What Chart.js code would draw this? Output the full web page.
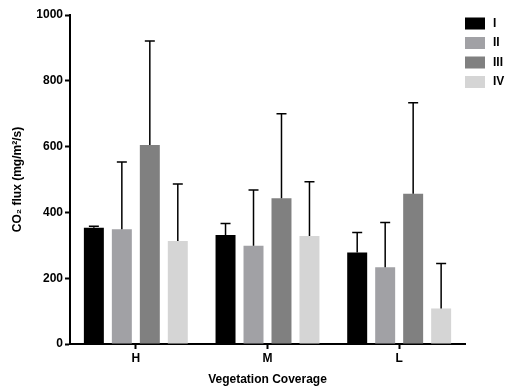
<!DOCTYPE html>
<html lang="en">
<head>
    <meta charset="UTF-8">
    <title>CO2 flux by vegetation coverage</title>
    <script src="https://cdn.jsdelivr.net/npm/chart.js"></script>
    <style>
        html, body {
            margin: 0;
            padding: 0;
            background: white;
        }
        #wrap {
            width: 509px;
            height: 389px;
        }
    </style>
</head>
<body>
    <div id="wrap"><canvas id="fluxChart"></canvas></div>
    <script>
        // data
        const coverage = ["H", "M", "L"];
        const seriesNames = ["I", "II", "III", "IV"];
        const seriesColors = ["#000000", "#a1a1a5", "#808080", "#d5d5d5"];
        const meanI = [353, 331, 278];
        const meanII = [349, 299, 233];
        const meanIII = [605, 443, 457];
        const meanIV = [313, 328, 108];
        // upper end of each error bar
        const topI = [358, 366, 339];
        const topII = [553, 468, 369];
        const topIII = [921, 700, 733];
        const topIV = [486, 493, 245];
        const yTicks = [0, 200, 400, 600, 800, 1000];

        const means = [meanI, meanII, meanIII, meanIV];
        const tops = [topI, topII, topIII, topIV];

        const tickFont = { family: "Liberation Sans, Arial, sans-serif", size: 12, weight: "bold" };

        // draw the upward error bars
        const errorBars = {
            id: "errorBars",
            afterDatasetsDraw(chart) {
                const ctx = chart.ctx;
                const y = chart.scales.y;
                ctx.save();
                ctx.strokeStyle = "#000";
                ctx.lineWidth = 1.5;
                chart.data.datasets.forEach((ds, i) => {
                    const meta = chart.getDatasetMeta(i);
                    meta.data.forEach((bar, j) => {
                        const x = bar.x;
                        const yTop = y.getPixelForValue(tops[i][j]);
                        const yBase = y.getPixelForValue(means[i][j]);
                        ctx.beginPath();
                        ctx.moveTo(x, yBase);
                        ctx.lineTo(x, yTop);
                        ctx.moveTo(x - 5, yTop);
                        ctx.lineTo(x + 5, yTop);
                        ctx.stroke();
                    });
                });
                ctx.restore();
            }
        };

        // legend drawn by hand at the top right
        const sideLegend = {
            id: "sideLegend",
            afterDraw(chart) {
                const ctx = chart.ctx;
                ctx.save();
                ctx.font = "bold 12px Liberation Sans, Arial, sans-serif";
                ctx.textBaseline = "middle";
                chart.data.datasets.forEach((ds, i) => {
                    const cy = 23.5 + i * 19.5;
                    ctx.fillStyle = ds.backgroundColor;
                    ctx.fillRect(465, cy - 6, 20, 12);
                    ctx.fillStyle = "#000";
                    ctx.fillText(ds.label, 493, cy);
                });
                ctx.restore();
            }
        };

        const ctx = document.getElementById("fluxChart").getContext("2d");
        new Chart(ctx, {
            type: "bar",
            data: {
                labels: coverage,
                datasets: seriesNames.map((name, i) => ({
                    label: name,
                    data: means[i],
                    backgroundColor: seriesColors[i],
                    borderWidth: 0,
                    barPercentage: 0.714,
                    categoryPercentage: 0.85
                }))
            },
            options: {
                responsive: true,
                maintainAspectRatio: false,
                animation: false,
                layout: {
                    padding: { top: 15, right: 44, bottom: 0, left: 0 }
                },
                plugins: {
                    legend: { display: false },
                    tooltip: { enabled: false }
                },
                scales: {
                    x: {
                        grid: {
                            display: true,
                            offset: false,
                            drawOnChartArea: false,
                            drawTicks: true,
                            tickLength: 5,
                            tickWidth: 2,
                            color: "#000"
                        },
                        border: { color: "#000", width: 2 },
                        ticks: { color: "#000", font: tickFont, padding: 2 },
                        title: {
                            display: true,
                            text: "Vegetation Coverage",
                            color: "#000",
                            font: { family: "Liberation Sans, Arial, sans-serif", size: 12, weight: "bold" },
                            padding: { top: 0, bottom: 2 }
                        },
                        afterFit(scale) { scale.height = 45; }
                    },
                    y: {
                        min: 0,
                        max: 1000,
                        afterBuildTicks(scale) {
                            scale.ticks = yTicks.map(v => ({ value: v }));
                        },
                        grid: {
                            display: true,
                            drawOnChartArea: false,
                            drawTicks: true,
                            tickLength: 5,
                            tickWidth: 2,
                            color: "#000"
                        },
                        border: { color: "#000", width: 2 },
                        ticks: {
                            color: "#000",
                            font: tickFont,
                            padding: 2,
                            callback: v => String(v)
                        },
                        title: {
                            display: true,
                            text: "CO\u2082 flux (mg/m\u00b2/s)",
                            color: "#000",
                            font: { family: "Liberation Sans, Arial, sans-serif", size: 12, weight: "bold" },
                            padding: { top: 10, bottom: 0 }
                        },
                        afterFit(scale) { scale.width = 70; }
                    }
                }
            },
            plugins: [errorBars, sideLegend]
        });
    </script>
</body>
</html>
